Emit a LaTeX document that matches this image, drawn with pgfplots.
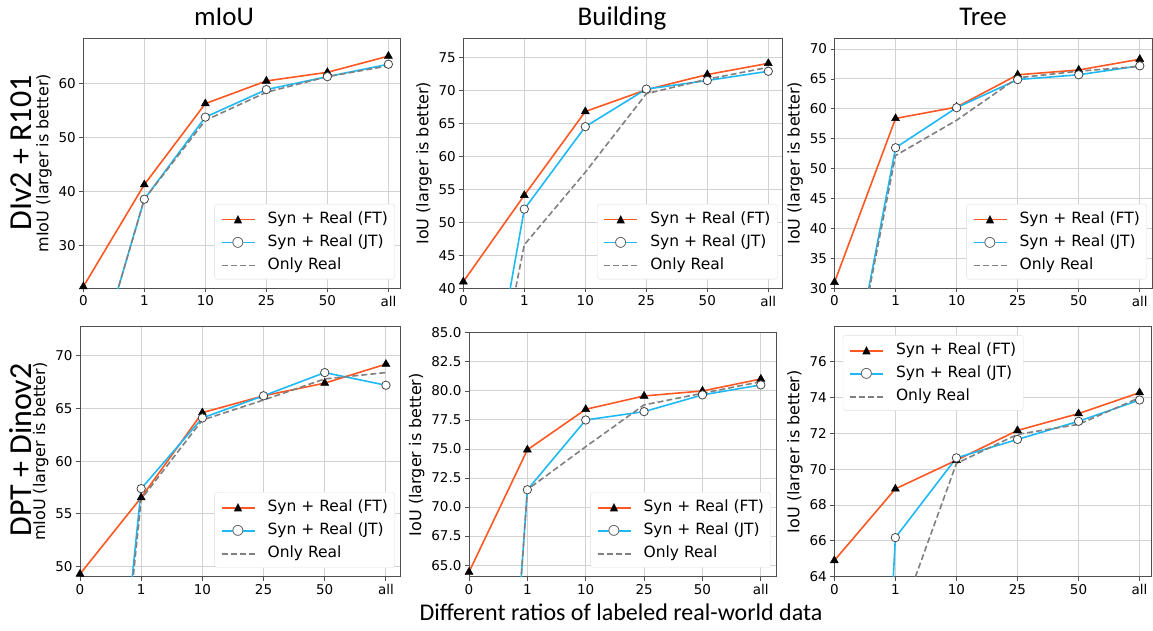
\documentclass[border=0pt]{standalone}
\usepackage{pgfplots}
\pgfplotsset{compat=1.18}
\usepackage{fontspec}
\setmainfont{DejaVu Sans}
\newfontfamily\calfont{Carlito}

\definecolor{ftred}{RGB}{255,87,34}
\definecolor{jtblue}{RGB}{30,185,245}
\definecolor{onlygray}{RGB}{128,128,128}
\definecolor{gridgray}{RGB}{210,210,210}
\definecolor{legendgray}{RGB}{222,222,222}
\definecolor{axisgray}{RGB}{80,80,80}
\definecolor{markgray}{RGB}{70,70,70}

\pgfplotsset{
  panel/.style={
    scale only axis, anchor=north west, clip=true,
    xmin=0, xtick={0,...,5}, xticklabels={0,1,10,25,50,all},
    grid=major, major grid style={draw=gridgray, line width=1pt},
    axis line style={draw=axisgray, line width=0.9pt},
    tick pos=left, tick align=outside, major tick length=4pt,
    tick style={draw=axisgray, line width=0.9pt},
    ticklabel style={font=\fontsize{13.5}{16}\selectfont},
    /pgf/number format/assume math mode=true,
    ylabel style={font=\fontsize{16}{19}\selectfont},
  },
  ft/.style={draw=ftred, line width=1.6pt, mark=triangle*, mark size=4.6pt,
    mark options={fill=black, draw=black, line width=0.5pt, solid}},
  jt/.style={draw=jtblue, line width=1.6pt, mark=*, mark size=4.2pt,
    mark options={fill=white, draw=markgray, line width=0.8pt, solid}},
  only/.style={draw=onlygray, line width=1.6pt, dash pattern=on 6pt off 3pt, no marks},
}
\tikzset{legbox/.style={draw=legendgray, fill=white, rounded corners=2.5pt,
  inner xsep=7pt, inner ysep=3pt, font=\fontsize{15.5}{23}\selectfont}}

% legend samples, set as rules and glyphs
\newcommand{\vc}[1]{$\vcenter{\hbox{#1}}$}
\newcommand{\sampleline}[1]{\textcolor{#1}{\vc{\rule{33pt}{1.6pt}}}}
\newcommand{\ftsample}{\rlap{\sampleline{ftred}}%
  \makebox[33pt]{\vc{\fontsize{11}{11}\selectfont\textcolor{black}{▲}}}}
\newcommand{\jtsample}{\rlap{\sampleline{jtblue}}%
  \rlap{\makebox[33pt]{\vc{\fontsize{14}{14}\selectfont\textcolor{white}{●}}}}%
  \makebox[33pt]{\vc{\fontsize{14}{14}\selectfont\textcolor{markgray}{○}}}}
\newcommand{\onlysample}{\textcolor{onlygray}{\vc{\rule{6pt}{1.6pt}\hspace{3pt}%
  \rule{6pt}{1.6pt}\hspace{3pt}\rule{6pt}{1.6pt}\hspace{3pt}\rule{6pt}{1.6pt}}}}
\newcommand{\legtable}{%
  \begin{tabular}{@{}l@{\hspace{13pt}}l@{}}
  \ftsample & Syn + Real (FT)\\
  \jtsample & Syn + Real (JT)\\
  \onlysample & Only Real
  \end{tabular}}
\newcommand{\legLR}{\node[legbox, anchor=south east] at ([xshift=-5pt, yshift=9pt]rel axis cs:1,0) {\legtable};}
\newcommand{\legUL}{\node[legbox, anchor=north west] at ([xshift=8.5pt, yshift=-8.5pt]rel axis cs:0,1) {\legtable};}

\begin{document}
\begin{tikzpicture}
\path (0,0) rectangle (1153pt,-631pt);

% column titles
\node[anchor=base] at (224pt,-26pt) {\calfont\fontsize{27}{30}\selectfont mIoU};
\node[anchor=base] at (622pt,-26pt) {\calfont\fontsize{27}{30}\selectfont Building};
\node[anchor=base] at (983pt,-26pt) {\calfont\fontsize{27}{30}\selectfont Tree};
% row labels
\node[rotate=90] at (21pt,-153pt) {\calfont\fontsize{32}{36}\selectfont DIv2 + R101};
\node[rotate=90] at (21pt,-450pt) {\calfont\fontsize{32}{36}\selectfont DPT + Dinov2};
% x label
\node[anchor=base] at (621pt,-620pt) {\calfont\fontsize{24}{28}\selectfont Different ratios of labeled real-world data};

% ---- row 1 ----
\begin{axis}[panel, at={(83.3pt,-38.3pt)}, width=316.7pt, height=250pt,
  xmax=5.19, ymin=22, ymax=68.3, ytick={30,40,50,60},
  ylabel={mIoU (larger is better)}]
\addplot[ft] coordinates {(0,22.3)(1,41.2)(2,56.2)(3,60.4)(4,62.0)(5,65.0)};
\addplot[jt] coordinates {(0,0)(1,38.5)(2,53.7)(3,58.8)(4,61.2)(5,63.5)};
\addplot[only] coordinates {(0,0)(1,38.5)(2,53.1)(3,58.3)(4,61.2)(5,63.2)};
\legLR
\end{axis}

\begin{axis}[panel, at={(463.3pt,-38.3pt)}, width=319.4pt, height=250pt,
  xmax=5.236, ymin=40, ymax=77.9, ytick={40,45,...,75},
  ylabel={IoU (larger is better)}]
\addplot[ft] coordinates {(0,41.0)(1,54.1)(2,66.8)(3,70.1)(4,72.4)(5,74.1)};
\addplot[jt] coordinates {(0,0)(1,52.0)(2,64.5)(3,70.2)(4,71.5)(5,72.9)};
\addplot[only] coordinates {(0,0)(1,46.6)(2,57.6)(3,69.5)(4,71.7)(5,73.5)};
\legLR
\end{axis}

\begin{axis}[panel, at={(834.5pt,-38.3pt)}, width=317.5pt, height=250pt,
  xmax=5.2, ymin=30, ymax=71.8, ytick={30,35,...,70},
  ylabel={IoU (larger is better)}]
\addplot[ft] coordinates {(0,31.0)(1,58.4)(2,60.3)(3,65.7)(4,66.5)(5,68.3)};
\addplot[jt] coordinates {(0,0)(1,53.5)(2,60.2)(3,64.9)(4,65.7)(5,67.2)};
\addplot[only] coordinates {(0,0)(1,52.2)(2,58.1)(3,65.2)(4,66.3)(5,67.1)};
\legLR
\end{axis}

% ---- row 2 ----
\begin{axis}[panel, at={(80pt,-326.7pt)}, width=320pt, height=250pt,
  xmax=5.23, ymin=49.05, ymax=72.75, ytick={50,55,...,70},
  ylabel={mIoU (larger is better)}]
\addplot[ft] coordinates {(0,49.3)(1,56.55)(2,64.6)(3,66.2)(4,67.4)(5,69.2)};
\addplot[jt] coordinates {(0,0)(1,57.4)(2,64.1)(3,66.2)(4,68.4)(5,67.2)};
\addplot[only] coordinates {(0,0)(1,56.4)(2,63.9)(3,65.8)(4,67.8)(5,68.4)};
\legLR
\end{axis}

\begin{axis}[panel, at={(469pt,-332.7pt)}, width=307pt, height=244pt,
  xmax=5.26, ymin=64.0, ymax=85.02, ytick={65,67.5,...,85},
  yticklabel style={/pgf/number format/.cd, fixed, fixed zerofill, precision=1},
  ylabel={IoU (larger is better)}]
\addplot[ft] coordinates {(0,64.4)(1,74.93)(2,78.42)(3,79.57)(4,80.0)(5,81.03)};
\addplot[jt] coordinates {(0,0)(1,71.49)(2,77.5)(3,78.22)(4,79.66)(5,80.52)};
\addplot[only] coordinates {(0,0)(1,71.5)(2,75.2)(3,78.8)(4,79.8)(5,80.8)};
\legLR
\end{axis}

\begin{axis}[panel, at={(834.3pt,-326.7pt)}, width=317.5pt, height=250pt,
  xmax=5.2, ymin=64, ymax=77.95, ytick={64,66,...,76},
  ylabel={IoU (larger is better)}]
\addplot[ft] coordinates {(0,64.9)(1,68.9)(2,70.5)(3,72.16)(4,73.1)(5,74.27)};
\addplot[jt] coordinates {(0,0)(1,66.18)(2,70.63)(3,71.66)(4,72.67)(5,73.86)};
\addplot[only] coordinates {(0,0)(1,60.9)(2,70.32)(3,71.94)(4,72.5)(5,73.99)};
\legUL
\end{axis}
\end{tikzpicture}
\end{document}
